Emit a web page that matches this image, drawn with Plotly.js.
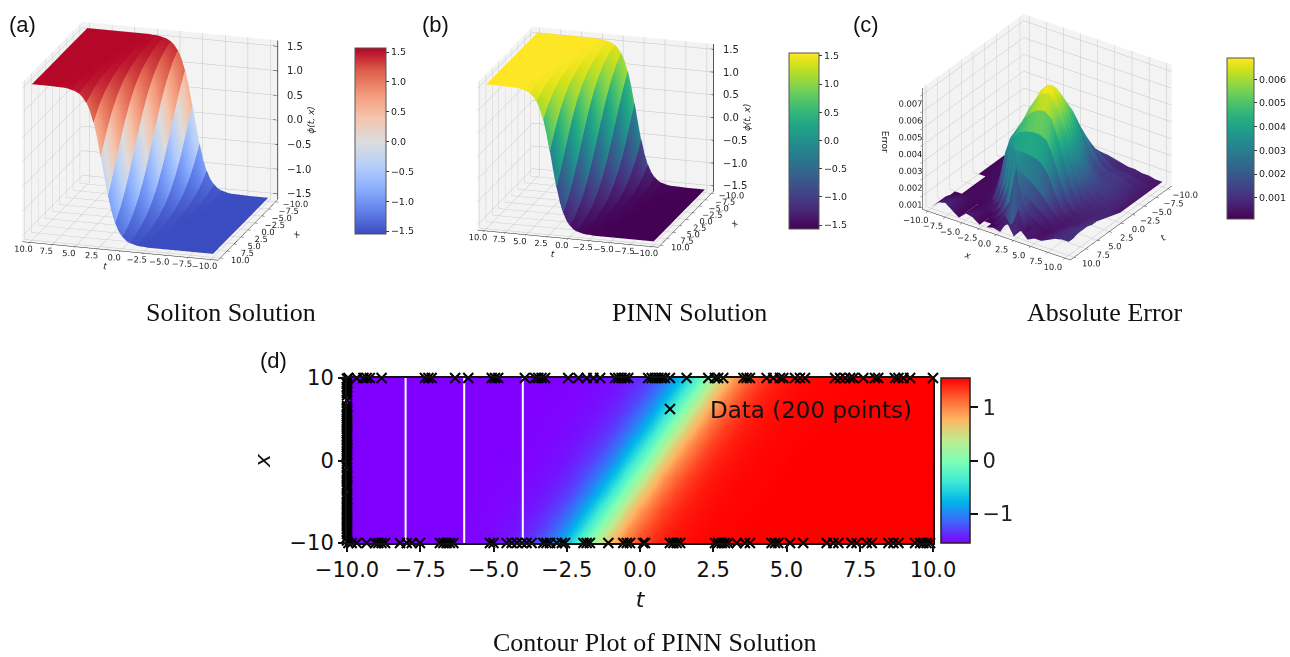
<!DOCTYPE html>
<html><head><meta charset="utf-8">
<script src="https://cdn.plot.ly/plotly-3.0.1.min.js"></script>
<style>html,body{margin:0;padding:0;background:#fff}#g{width:1290px;height:657px}</style>
</head><body><div id="g"></div>
<script>
const tGrid=[-10,-8,-6.4,-6,-5.6,-5.2,-4.8,-4.4,-4,-3.6,-3.2,-2.8,-2.4,-2,-1.6,-1.2,-0.8,-0.4,0,0.4,0.8,1.2,1.6,2,2.4,2.8,3.2,3.6,4,4.4,4.8,5.2,5.6,6,6.4,8,10];
const xGrid=[-10,-8,-6,-4,-2,0,2,4,6,8,10];
const phi=[
[-1.55,-1.55,-1.54,-1.54,-1.53,-1.51,-1.49,-1.45,-1.38,-1.28,-1.12,-.89,-.58,-.2,.2,.58,.89,1.12,1.28,1.38,1.45,1.49,1.51,1.53,1.54,1.54,1.55,1.55,1.55,1.55,1.55,1.55,1.55,1.55,1.55,1.55,1.55],
[-1.55,-1.55,-1.55,-1.54,-1.54,-1.53,-1.51,-1.49,-1.45,-1.38,-1.28,-1.12,-.89,-.58,-.2,.2,.58,.89,1.12,1.28,1.38,1.45,1.49,1.51,1.53,1.54,1.54,1.55,1.55,1.55,1.55,1.55,1.55,1.55,1.55,1.55,1.55],
[-1.55,-1.55,-1.55,-1.55,-1.54,-1.54,-1.53,-1.51,-1.49,-1.45,-1.38,-1.28,-1.12,-.89,-.58,-.2,.2,.58,.89,1.12,1.28,1.38,1.45,1.49,1.51,1.53,1.54,1.54,1.55,1.55,1.55,1.55,1.55,1.55,1.55,1.55,1.55],
[-1.55,-1.55,-1.55,-1.55,-1.55,-1.54,-1.54,-1.53,-1.51,-1.49,-1.45,-1.38,-1.28,-1.12,-.89,-.58,-.2,.2,.58,.89,1.12,1.28,1.38,1.45,1.49,1.51,1.53,1.54,1.54,1.55,1.55,1.55,1.55,1.55,1.55,1.55,1.55],
[-1.55,-1.55,-1.55,-1.55,-1.55,-1.55,-1.54,-1.54,-1.53,-1.51,-1.49,-1.45,-1.38,-1.28,-1.12,-.89,-.58,-.2,.2,.58,.89,1.12,1.28,1.38,1.45,1.49,1.51,1.53,1.54,1.54,1.55,1.55,1.55,1.55,1.55,1.55,1.55],
[-1.55,-1.55,-1.55,-1.55,-1.55,-1.55,-1.55,-1.54,-1.54,-1.53,-1.51,-1.49,-1.45,-1.38,-1.28,-1.12,-.89,-.58,-.2,.2,.58,.89,1.12,1.28,1.38,1.45,1.49,1.51,1.53,1.54,1.54,1.55,1.55,1.55,1.55,1.55,1.55],
[-1.55,-1.55,-1.55,-1.55,-1.55,-1.55,-1.55,-1.55,-1.54,-1.54,-1.53,-1.51,-1.49,-1.45,-1.38,-1.28,-1.12,-.89,-.58,-.2,.2,.58,.89,1.12,1.28,1.38,1.45,1.49,1.51,1.53,1.54,1.54,1.55,1.55,1.55,1.55,1.55],
[-1.55,-1.55,-1.55,-1.55,-1.55,-1.55,-1.55,-1.55,-1.55,-1.54,-1.54,-1.53,-1.51,-1.49,-1.45,-1.38,-1.28,-1.12,-.89,-.58,-.2,.2,.58,.89,1.12,1.28,1.38,1.45,1.49,1.51,1.53,1.54,1.54,1.55,1.55,1.55,1.55],
[-1.55,-1.55,-1.55,-1.55,-1.55,-1.55,-1.55,-1.55,-1.55,-1.55,-1.54,-1.54,-1.53,-1.51,-1.49,-1.45,-1.38,-1.28,-1.12,-.89,-.58,-.2,.2,.58,.89,1.12,1.28,1.38,1.45,1.49,1.51,1.53,1.54,1.54,1.55,1.55,1.55],
[-1.55,-1.55,-1.55,-1.55,-1.55,-1.55,-1.55,-1.55,-1.55,-1.55,-1.55,-1.54,-1.54,-1.53,-1.51,-1.49,-1.45,-1.38,-1.28,-1.12,-.89,-.58,-.2,.2,.58,.89,1.12,1.28,1.38,1.45,1.49,1.51,1.53,1.54,1.54,1.55,1.55],
[-1.55,-1.55,-1.55,-1.55,-1.55,-1.55,-1.55,-1.55,-1.55,-1.55,-1.55,-1.55,-1.54,-1.54,-1.53,-1.51,-1.49,-1.45,-1.38,-1.28,-1.12,-.89,-.58,-.2,.2,.58,.89,1.12,1.28,1.38,1.45,1.49,1.51,1.53,1.54,1.55,1.55]
];
const facetT=[tGrid[0],tGrid[1]],facetIdx=[[0,0],[1,1]];
for(let i=2;i<34;i+=2){facetT.push(tGrid[i]+.02,tGrid[i+1],tGrid[i+2]-.02);facetIdx.push([i,i+1],[i+1,i+1],[i+2,i+1]);}
facetT.push(tGrid[35],tGrid[36]);facetIdx.push([35,35],[36,36]);
const phiZ=phi.map(r=>facetIdx.map(p=>r[p[0]]));
const phiC=phi.map(r=>facetIdx.map(p=>r[p[1]]));

const errX=[-10,-9,-8,-7,-6,-5,-4,-3,-2,-1,0,1,2,3,4,5,6,7,8,9,10];
const errT=[-10,-8,-6,-4,-3,-2,-1,0,1,2,3,4,5,6,7,8,9,10];
const errMilli=[
[.2,.3,.4,.5,.5,.5,.5,.6,.7,.8,.9,1.0,1.0,.9,.8,.7,.7,.6,.6,.5,.5],
[.2,.3,.4,.5,.5,.5,.7,.9,1.2,1.5,1.8,1.8,1.6,1.3,1.0,.9,.9,.8,.7,.6,.5],
[.2,.3,.4,.4,.4,.5,1.0,1.6,2.2,2.9,3.3,3.2,2.6,1.9,1.4,1.2,1.2,1.1,.9,.7,.5],
[.2,.3,.3,.3,.4,.5,1.8,2.9,3.9,4.7,5.1,4.7,3.7,2.6,1.8,1.4,1.3,1.2,1.0,.8,.5],
[.2,.3,.3,.3,.4,.5,2.2,3.3,4.4,5.3,5.7,5.3,4.3,3.1,2.2,1.7,1.4,1.3,1.1,.8,.5],
[.2,.3,.3,.3,.5,.6,2.6,3.7,4.9,5.9,6.3,5.9,4.9,3.7,2.7,2.0,1.5,1.3,1.1,.8,.5],
[.2,.3,.3,.3,.5,.6,3.0,4.0,5.3,6.3,6.7,6.4,5.4,4.2,3.2,2.3,1.6,1.2,1.0,.8,.5],
[.2,.2,.3,.3,.5,.6,3.4,4.3,5.5,6.4,6.9,6.7,5.8,4.6,3.4,2.3,1.4,1.0,.9,.8,.6],
[.2,.2,.3,.3,.5,.7,3.6,4.4,5.4,6.1,6.6,6.7,6.0,4.8,3.4,2.1,1.2,.9,.8,.8,.7],
[.2,.2,.3,.3,.4,.8,3.6,4.3,5.0,5.5,5.8,5.9,5.6,4.5,3.1,1.8,1.0,.8,.7,.8,.8],
[.2,.2,.3,.3,.4,.6,3.0,3.9,4.4,4.6,4.7,4.7,4.5,3.6,2.4,1.3,.8,.7,.7,.8,.9],
[.2,.2,.3,.3,.3,.4,2.0,3.3,3.6,3.6,3.6,3.5,3.3,2.7,1.7,.9,.6,.6,.7,.9,1.0],
[.2,.2,.3,.3,.3,.3,.6,2.0,4.2,3.0,2.6,2.3,2.0,1.6,1.1,.7,.5,.6,.7,.9,1.0],
[.2,.3,.4,.3,.2,.3,.4,.8,2.0,4.5,2.4,1.8,1.4,1.1,.8,.5,.5,.6,.8,1.0,1.1],
[.3,.4,.5,.4,.2,.3,.4,.3,.8,2.0,4.7,2.3,1.0,.7,.5,.4,.5,.7,.9,1.0,1.1],
[.3,.5,.6,.4,.2,.4,.4,.2,.3,.8,1.6,3.8,1.4,.5,.4,.4,.5,.7,.9,1.0,1.1],
[.3,.6,.7,.5,.2,.5,.5,.2,.2,.3,1.0,.4,1.6,.3,.8,.4,.5,.7,.9,1.0,1.0],
[.3,.7,.8,.5,.2,.6,.5,.2,.2,.3,.2,.9,.2,.7,.3,.5,.5,.7,.9,1.0,1.0]
];
const errFacetT=[],errFacetRows=[],errFacetCols=[];
for(let i=0;i<errT.length-1;i++){
 errFacetT.push(errT[i]+.02,errT[i+1]-.02);
 errFacetRows.push(errMilli[i],errMilli[i+1]);
 const m=errMilli[i].map((v,c)=>(v+errMilli[i+1][c])/2);
 errFacetCols.push(m,m);
}
const errZ=errX.map((_,c)=>errFacetRows.map(r=>r[c]/1000));
const errC=errX.map((_,c)=>errFacetCols.map(r=>r[c]/1000));

const dataTop=[-9.95,-9.67,-9.44,-9.33,-9.22,-8.82,-7.34,-7.22,-7.11,-6.31,-5.86,-5.06,-4.95,-4.84,-3.93,-3.58,-3.47,-3.36,-3.24,-2.45,-2.1,-1.82,-1.59,-1.36,-.85,-.74,-.63,-.51,-.4,
 .28,.4,.51,.63,.74,.85,1.02,1.59,2.33,2.56,2.67,2.84,3.53,3.64,3.75,4.32,4.55,4.78,4.89,5.29,5.46,5.63,6.66,6.83,7.0,7.17,7.28,7.62,8.02,8.13,8.7,8.82,8.99,9.22,10.0];
const dataBottom=[-9.95,-9.84,-9.67,-9.33,-9.04,-8.93,-8.82,-8.7,-8.19,-7.96,-7.79,-7.51,-6.83,-6.71,-6.6,-6.49,-6.37,-5.12,-5.0,-4.55,-4.38,-4.2,-4.03,-3.87,-3.7,-3.3,-3.19,-3.07,-2.84,-2.67,-2.56,-1.93,-1.82,-1.71,-1.08,-.57,-.45,-.34,.17,
 .11,1.02,1.14,1.25,1.37,2.56,2.67,2.79,2.9,3.01,3.3,3.58,3.75,4.49,4.61,4.72,5.12,5.57,6.37,6.6,6.77,7.22,7.39,7.74,7.91,8.48,8.65,8.82,9.39,9.56,9.67,9.78,9.9];
const dataLeft=[9.9,9.5,9.3,8.9,8.7,8.4,8.2,7.9,7.3,6.6,6.4,6.1,5.9,5.6,5.4,5.1,4.8,4.6,4.3,4.1,3.8,3.5,3.3,3.0,2.8,2.5,2.2,1.9,1.6,1.4,1.1,.8,.6,.2,-.1,-.4,-.8,-1.4,-1.7,-2.0,-2.3,-2.6,-2.9,-3.2,-3.5,-4.1,-4.4,-4.7,-5.0,-5.3,-5.6,-5.9,-6.2,-6.5,-6.8,-7.1,-7.4,-7.7,-8.0,-8.3,-8.6,-8.9,-9.3,-9.7];
const sliceTimes=[-8,-6,-4];
const axisTicks=[-10,-7.5,-5,-2.5,0,2.5,5,7.5,10];
const tickText=["\u221210.0","\u22127.5","\u22125.0","\u22122.5","0.0","2.5","5.0","7.5","10.0"];
const phiTicks=[-1.5,-1,-.5,0,.5,1,1.5];
const phiText=["\u22121.5","\u22121.0","\u22120.5","0.0","0.5","1.0","1.5"];
const errTicks=[.001,.002,.003,.004,.005,.006,.007];
const errText=["0.001","0.002","0.003","0.004","0.005","0.006","0.007"];

const coolwarm=[[0,'#3b4cc0'],[.125,'#6282ea'],[.25,'#8db0fe'],[.375,'#b8d0f9'],[.5,'#dddcdc'],[.625,'#f5c4ac'],[.75,'#f49a7b'],[.875,'#dd604c'],[1,'#b40426']];
const rainbow=[[0,'#8000ff'],[.125,'#4062fa'],[.25,'#00b5eb'],[.375,'#40ecd4'],[.5,'#80ffb4'],[.625,'#c0eb8d'],[.75,'#ffb462'],[.875,'#ff6232'],[1,'#ff0000']];
const W=1290,H=657;
const font3d='DejaVu Sans';
const flat={ambient:1,diffuse:0,specular:0,roughness:1,fresnel:0};
const LIM=10.8,ZLIM=1.62;
function cbar(x0,x1,y0,y1,vals,text,size){return {x:x0/W,xanchor:'left',y:1-y1/H,yanchor:'bottom',thickness:x1-x0,thicknessmode:'pixels',len:y1-y0,lenmode:'pixels',
  tickvals:vals,ticktext:text,ticks:'outside',ticklen:size>12?8:3,tickwidth:1,tickcolor:'#333',outlinewidth:1,outlinecolor:'#555',ypad:0,xpad:0,tickfont:{family:font3d,size:size,color:'#222'}};}
function ax(title,vals,text,range){return {title:{text:title,font:{family:font3d,size:9,color:'#222'}},tickvals:vals,ticktext:text,range:range,autorange:false,tickangle:0,
  tickfont:{family:font3d,size:10,color:'#222'},showbackground:true,backgroundcolor:'#f3f3f3',gridcolor:'#c4c4c4',gridwidth:1,showspikes:false,
  zeroline:false,showline:true,linecolor:'#222',linewidth:1,ticks:'outside',ticklen:3,tickcolor:'#222'};}
function scene(dom,eye,center,k,zk,xt,yt,zt,zv,ztx,zr){const s={domain:{x:[dom[0]/W,dom[1]/W],y:[1-dom[3]/H,1-dom[2]/H]},
  camera:{eye:eye,center:center,up:{x:0,y:0,z:1},projection:{type:'orthographic'}},aspectmode:'manual',aspectratio:{x:k,y:k,z:zk*k},
  xaxis:ax(xt,axisTicks,tickText,[-LIM,LIM]),yaxis:ax(yt,axisTicks,tickText,[-LIM,LIM]),zaxis:ax(zt,zv,ztx,zr)};
  return s;}
// the phi panels carry their z scale on the right-hand back edge, as matplotlib did
function rightZ(s){
 s.zaxis.showticklabels=false;s.zaxis.ticks='';s.zaxis.showline=false;s.zaxis.title={text:''};
 s.annotations=phiTicks.map((v,i)=>({x:-LIM,y:-LIM,z:v,text:phiText[i],showarrow:false,xanchor:'left',xshift:7,font:{family:font3d,size:10,color:'#222'}}));
 s.annotations.push({x:-LIM,y:-LIM,z:0,text:'<i>\u03d5(t, x)</i>',textangle:-90,showarrow:false,xshift:33,font:{family:font3d,size:9,color:'#222'}});
 return s;}
function zEdge(sc){const x=[-LIM,-LIM,null],y=[-LIM,-LIM,null],z=[-ZLIM,ZLIM,null];
 phiTicks.forEach(v=>{x.push(-LIM,-LIM+.5,null);y.push(-LIM,-LIM,null);z.push(v,v,null);});
 return {type:'scatter3d',scene:sc,mode:'lines',x:x,y:y,z:z,line:{color:'#222',width:1.5},showlegend:false,hoverinfo:'skip'};}
const e1={x:-.657,y:1.789,z:.62},c1={x:-.101,y:-.031,z:0};
const e3={x:1.403,y:1.014,z:1.0},c3={x:-.025,y:.036,z:0};
const traces=[
 {type:'surface',scene:'scene',x:facetT,y:xGrid,z:phiZ,surfacecolor:phiC,colorscale:coolwarm,cmin:-1.55,cmax:1.57,lighting:flat,showscale:true,
  colorbar:cbar(355,386,48,234,phiTicks,phiText,9.5)},
 {type:'surface',scene:'scene2',x:facetT,y:xGrid,z:phiZ,surfacecolor:phiC,colorscale:'Viridis',cmin:-1.57,cmax:1.55,lighting:flat,showscale:true,
  colorbar:cbar(789,819,53,229,phiTicks,phiText,9.5)},
 zEdge('scene'),zEdge('scene2'),
 {type:'surface',scene:'scene3',x:errFacetT,y:errX,z:errZ,surfacecolor:errC,colorscale:'Viridis',cmin:.0001,cmax:.0069,lighting:flat,showscale:true,
  colorbar:cbar(1227,1254,58,219,errTicks.slice(0,6),errText.slice(0,6),9.5)},
 {type:'heatmap',x:tGrid,y:xGrid,z:phi,colorscale:rainbow,zmin:-1.55,zmax:1.55,zsmooth:'best',xaxis:'x',yaxis:'y',
  colorbar:Object.assign(cbar(941,970,378,543,[-1,0,1],['\u22121','0','1'],21),{outlinewidth:1.5,outlinecolor:'#222',tickwidth:1.5,tickcolor:'#111'})}
];
sliceTimes.forEach(t=>traces.push({type:'scatter',x:[t,t],y:[-10,10],mode:'lines',line:{color:'#fff',width:2},showlegend:false,hoverinfo:'skip',xaxis:'x',yaxis:'y'}));
const mx=dataTop.concat(dataBottom,dataLeft.map(()=>-10));
const my=dataTop.map(()=>10).concat(dataBottom.map(()=>-10),dataLeft);
traces.push({type:'scatter',name:'Data (200 points)',x:mx,y:my,mode:'markers',cliponaxis:false,xaxis:'x',yaxis:'y',
  marker:{symbol:'x-thin',size:10,color:'#000',line:{color:'#000',width:2}}});
function note(text,x,y,size,fam,col){return {text:text,x:x/W,y:1-y/H,xref:'paper',yref:'paper',showarrow:false,xanchor:'center',yanchor:'middle',font:{family:fam,size:size,color:col||'#111'}};}
const serif='Liberation Serif',sans='Liberation Sans';
const s3=scene([880,1226,0,274],e3,c3,1.31,.78,'<i>t</i>','<i>x</i>','',errTicks,errText,[.0002,.0074]);
s3.annotations=[{x:LIM,y:-LIM,z:.0042,text:'Error',textangle:90,showarrow:false,xshift:-37,font:{family:font3d,size:9,color:'#222'}}];
const layout={width:W,height:H,margin:{l:0,r:0,t:0,b:0},paper_bgcolor:'#fff',plot_bgcolor:'#fff',showlegend:true,
 legend:{x:630/W,y:1-409/H,xanchor:'left',yanchor:'middle',bgcolor:'rgba(0,0,0,0)',borderwidth:0,itemwidth:70,font:{family:font3d,size:23,color:'#111'}},
 scene:rightZ(scene([0,330,0,282],e1,c1,1.45,.82,'<i>t</i>','<i>x</i>','',phiTicks,phiText,[-ZLIM,ZLIM])),
 scene2:rightZ(scene([450,770,0,274],e1,c1,1.38,.82,'<i>t</i>','<i>x</i>','',phiTicks,phiText,[-ZLIM,ZLIM])),
 scene3:s3,
 xaxis:{domain:[347/W,933/W],range:[-10,10],tickvals:axisTicks,ticktext:tickText,ticks:'outside',ticklen:7,tickwidth:1.5,tickcolor:'#111',
   tickfont:{family:font3d,size:21,color:'#111'},showgrid:false,zeroline:false,showline:true,mirror:true,linecolor:'#111',linewidth:2,
   title:{text:'<i>t</i>',font:{family:font3d,size:22,color:'#111'},standoff:10},anchor:'y'},
 yaxis:{domain:[1-543/H,1-378/H],range:[-10,10],tickvals:[-10,0,10],ticktext:['\u221210','0','10'],ticks:'outside',ticklen:7,tickwidth:1.5,tickcolor:'#111',
   tickfont:{family:font3d,size:21,color:'#111'},showgrid:false,zeroline:false,showline:true,mirror:true,linecolor:'#111',linewidth:2,
   title:{text:'<i>x</i>',font:{family:font3d,size:22,color:'#111'},standoff:13},anchor:'x'},
 annotations:[
  note('Soliton Solution',231,312,26,serif),note('PINN Solution',690,312,26,serif),note('Absolute Error',1105,312,26,serif),note('Contour Plot of PINN Solution',655,642,26,serif),
  note('(a)',22,24,22,sans),note('(b)',435,24,22,sans),note('(c)',866,24,22,sans),note('(d)',273,360,22,sans)
 ]};
Plotly.newPlot('g',traces,layout,{displayModeBar:false});
</script></body></html>
